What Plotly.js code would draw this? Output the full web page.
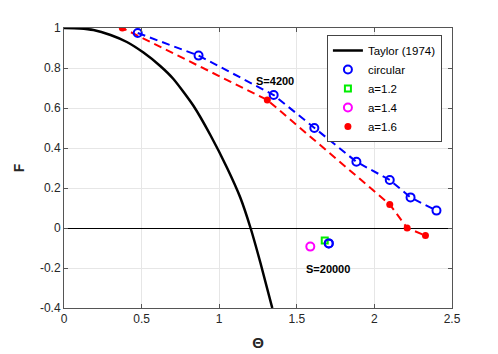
<!DOCTYPE html>
<html>
<head>
<meta charset="utf-8">
<script src="https://cdn.plot.ly/plotly-3.0.1.min.js"></script>
<style>
  html, body { margin: 0; padding: 0; background: #fff; }
  #plot { width: 498px; height: 354px; }
</style>
</head>
<body>
<div id="plot"></div>
<script>
// Taylor (1974) curve
const taylorTheta = [0, 0.1, 0.19, 0.3, 0.405, 0.512, 0.62, 0.705, 0.835, 0.943, 1.051, 1.137, 1.202, 1.266, 1.342];
const taylorF = [1, 0.998, 0.99, 0.965, 0.93, 0.877, 0.81, 0.745, 0.61, 0.465, 0.30, 0.15, 0, -0.175, -0.40];

// S=4200 series
const circTheta = [0.475, 0.867, 1.351, 1.613, 1.884, 2.099, 2.233, 2.40];
const circF = [0.975, 0.862, 0.665, 0.50, 0.331, 0.24, 0.153, 0.087];
const a16Theta = [0.376, 1.31, 2.099, 2.211, 2.329];
const a16F = [1.0, 0.64, 0.118, 0.0, -0.038];
// red dashed line starts a little before the first marker
const a16LineTheta = [0.271, 0.376, 1.31, 2.099, 2.211, 2.329];
const a16LineF = [1.01, 1.0, 0.64, 0.118, 0.0, -0.038];

// S=20000 points
const s2Circ = { theta: [1.706], f: [-0.077] };
const s2A12 = { theta: [1.68], f: [-0.063] };
const s2A14 = { theta: [1.587], f: [-0.093] };

const xTicks = [0, 0.5, 1, 1.5, 2, 2.5];
const xTickText = ["0", "0.5", "1", "1.5", "2", "2.5"];
const yTicks = [-0.4, -0.2, 0, 0.2, 0.4, 0.6, 0.8, 1];
const yTickText = ["-0.4", "-0.2", "0", "0.2", "0.4", "0.6", "0.8", "1"];

const traces = [
  {
    x: taylorTheta, y: taylorF, mode: "lines", name: "Taylor (1974)",
    line: { color: "black", width: 2.5, shape: "spline", smoothing: 0.6 },
  },
  {
    x: circTheta, y: circF, mode: "lines", showlegend: false,
    line: { color: "blue", width: 2, dash: "8px,5px" },
  },
  {
    x: a16LineTheta, y: a16LineF, mode: "lines", showlegend: false,
    line: { color: "red", width: 2, dash: "8px,5px" },
  },
  {
    x: circTheta.concat(s2Circ.theta), y: circF.concat(s2Circ.f),
    mode: "markers", name: "circular",
    marker: { symbol: "circle-open", size: 8, color: "blue", line: { width: 2, color: "blue" } },
  },
  {
    x: s2A12.theta, y: s2A12.f, mode: "markers", name: "a=1.2",
    marker: { symbol: "square-open", size: 6, color: "#00ee00", line: { width: 2, color: "#00ee00" } },
  },
  {
    x: s2A14.theta, y: s2A14.f, mode: "markers", name: "a=1.4",
    marker: { symbol: "circle-open", size: 8, color: "magenta", line: { width: 2, color: "magenta" } },
  },
  {
    x: a16Theta, y: a16F, mode: "markers", name: "a=1.6",
    marker: { symbol: "circle", size: 7, color: "red" },
  },
];

// draw the S=20000 blue circle on top of the green square
traces.push({
  x: s2Circ.theta, y: s2Circ.f, mode: "markers", showlegend: false,
  marker: { symbol: "circle-open", size: 8, color: "blue", line: { width: 2, color: "blue" } },
});

const axisCommon = {
  showline: true, mirror: "ticks", linecolor: "#555", linewidth: 1,
  ticks: "inside", ticklen: 4, tickcolor: "#555",
  showgrid: true, gridcolor: "#e6e6e6", gridwidth: 1,
  tickfont: { family: "Liberation Sans, Arial, sans-serif", size: 12, color: "#262626" },
};

const layout = {
  width: 498, height: 354,
  margin: { l: 64, r: 46, t: 28, b: 46 },
  paper_bgcolor: "white", plot_bgcolor: "white",
  showlegend: true,
  legend: {
    x: 0.974, y: 0.975, xanchor: "right", yanchor: "top",
    bordercolor: "#444", borderwidth: 1, bgcolor: "white",
    font: { family: "Liberation Sans, Arial, sans-serif", size: 11.5, color: "black" },
    tracegroupgap: 0, itemwidth: 30,
  },
  xaxis: Object.assign({}, axisCommon, {
    range: [0, 2.5], tickvals: xTicks, ticktext: xTickText, zeroline: false,
    title: { text: "<b>\u0398</b>", standoff: 12, font: { family: "Liberation Sans, Arial, sans-serif", size: 15, color: "#262626" } },
  }),
  yaxis: Object.assign({}, axisCommon, {
    range: [-0.4, 1], tickvals: yTicks, ticktext: yTickText,
    zeroline: true, zerolinecolor: "black", zerolinewidth: 1,
    title: { text: "<b>F</b>", standoff: 12, font: { family: "Liberation Sans, Arial, sans-serif", size: 14, color: "#262626" } },
  }),
  annotations: [
    { x: 1.361, y: 0.735, text: "<b>S=4200</b>", showarrow: false,
      font: { family: "Liberation Sans, Arial, sans-serif", size: 11, color: "black" } },
    { x: 1.703, y: -0.205, text: "<b>S=20000</b>", showarrow: false,
      font: { family: "Liberation Sans, Arial, sans-serif", size: 11, color: "black" } },
  ],
};

Plotly.newPlot("plot", traces, layout, { displayModeBar: false, staticPlot: true });
</script>
</body>
</html>
